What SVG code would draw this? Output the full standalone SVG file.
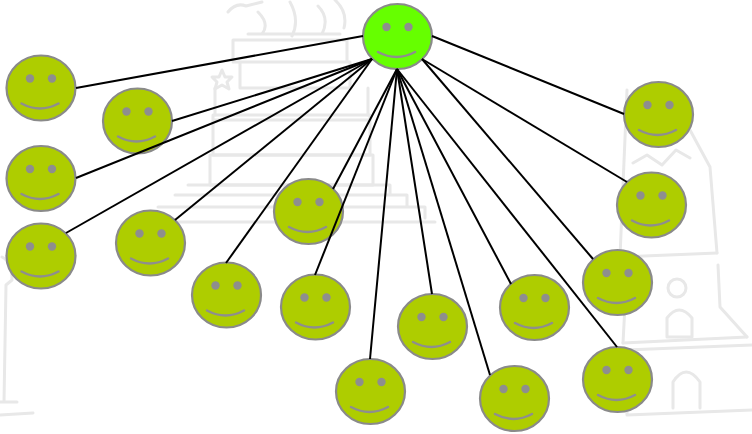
<svg xmlns="http://www.w3.org/2000/svg" xmlns:xlink="http://www.w3.org/1999/xlink" width="752" height="434" viewBox="0 0 752 434">
  <style>
    .wm { fill: none; stroke: #e8e8e8; stroke-width: 3; stroke-linejoin: round; stroke-linecap: round; }
    .face { fill: #aecd00; }
    .hub { fill: #66ff00; }
    .edge { stroke: #000; stroke-width: 2; fill: none; }
  </style>
  <defs>
    <!-- smiley face; the outline ellipse inherits its fill from the <use> -->
    <g id="smiley">
      <ellipse cx="0" cy="0" rx="34.5" ry="32.5" stroke="#8a8a8a" stroke-width="2.2"/>
      <circle cx="-11" cy="-9.5" r="4.2" fill="#8e8e8e"/>
      <circle cx="11" cy="-9.5" r="4.2" fill="#8e8e8e"/>
      <path d="M -19.5 15.5 Q -1 25.5 17.5 15.5" fill="none" stroke="#8e8e8e" stroke-width="2.5" stroke-linecap="round"/>
    </g>
  </defs>

  <rect width="752" height="434" fill="#fff"/>

  <!-- faint background drawing: monument -->
  <g id="backdrop">
    <path class="wm" d="M 228 12 Q 236 2 246 6 L 262 2 M 258 12 Q 270 24 262 34 M 290 2 Q 300 20 292 36 M 318 6 Q 330 18 322 34 M 335 0 Q 348 12 344 28 M 248 34 L 340 34"/>
    <path class="wm" d="M 233 40 L 347 40 L 347 62 L 233 62 Z M 240 62 L 350 62 L 350 88 L 240 88 Z"/>
    <path class="wm" d="M 222 70 L 225 77 L 232 77 L 227 82 L 229 89 L 222 85 L 215 89 L 217 82 L 212 77 L 219 77 Z"/>
    <path class="wm" d="M 213 115 L 370 115 L 370 155 L 213 155 Z M 213 120 L 370 120"/>
    <path class="wm" d="M 215 88 L 215 115 M 368 88 L 368 115"/>
    <path class="wm" d="M 210 155 L 373 155 L 373 185 L 210 185 Z"/>
    <path class="wm" d="M 188 185 L 390 185 L 390 195 M 175 195 L 407 195 L 407 207 M 158 207 L 425 207 L 425 218 M 150 222 L 435 222"/>
  </g>

  <!-- faint background drawing: tower -->
  <g id="backdrop-tower">
    <path class="wm" d="M 627 90 L 620 257 M 633 163 L 647 155 L 662 165 L 676 150 L 690 158 M 690 130 L 710 167 L 717 253"/>
    <path class="wm" d="M 620 257 L 717 253"/>
    <path class="wm" d="M 627 267 L 623 343 M 718 265 L 720 307 L 747 337"/>
    <circle class="wm" cx="677" cy="288" r="9"/>
    <path class="wm" d="M 667 337 L 667 318 Q 679 302 692 318 L 692 337 Z"/>
    <path class="wm" d="M 623 343 L 747 337 M 625 350 L 752 345 M 627 350 L 627 415 L 752 410"/>
    <path class="wm" d="M 673 408 L 673 382 Q 686 362 700 382 L 700 408"/>
  </g>

  <!-- faint background drawing: left fragment -->
  <g id="backdrop-left">
    <path class="wm" d="M 2 257 Q 12 262 12 280 L 6 285 L 4 402 M 0 402 L 17 402 M 0 415 L 33 413"/>
  </g>

  <!-- nodes -->
  <g id="hub"><use xlink:href="#smiley" href="#smiley" class="hub" transform="translate(397.5 36.5)"/></g>
  <g id="n1"><use href="#smiley" class="face" transform="translate(41 88)"/></g>
  <g id="n2"><use href="#smiley" class="face" transform="translate(137.5 121)"/></g>
  <g id="n3"><use href="#smiley" class="face" transform="translate(41 178.5)"/></g>
  <g id="n4"><use href="#smiley" class="face" transform="translate(41 256)"/></g>
  <g id="n5"><use href="#smiley" class="face" transform="translate(150.5 243)"/></g>
  <g id="n6"><use href="#smiley" class="face" transform="translate(308.5 211.5)"/></g>
  <g id="n7"><use href="#smiley" class="face" transform="translate(226.5 295)"/></g>
  <g id="n8"><use href="#smiley" class="face" transform="translate(315.5 307)"/></g>
  <g id="n9"><use href="#smiley" class="face" transform="translate(432.5 326.5)"/></g>
  <g id="n10"><use href="#smiley" class="face" transform="translate(370.5 391.5)"/></g>
  <g id="n11"><use href="#smiley" class="face" transform="translate(514.5 398.5)"/></g>
  <g id="n12"><use href="#smiley" class="face" transform="translate(534.5 307.5)"/></g>
  <g id="n13"><use href="#smiley" class="face" transform="translate(617.5 282.5)"/></g>
  <g id="n14"><use href="#smiley" class="face" transform="translate(617.5 379.5)"/></g>
  <g id="n15"><use href="#smiley" class="face" transform="translate(651.5 205)"/></g>
  <g id="n16"><use href="#smiley" class="face" transform="translate(658.5 114.5)"/></g>

  <!-- connectors from the hub to every node -->
  <g id="connectors" class="edge">
    <line x1="363" y1="36" x2="76" y2="88"/>
    <line x1="372" y1="59" x2="172" y2="121"/>
    <line x1="372" y1="59" x2="76" y2="178"/>
    <line x1="372" y1="59" x2="66" y2="233"/>
    <line x1="372" y1="59" x2="175" y2="220"/>
    <line x1="397" y1="69" x2="333" y2="189"/>
    <line x1="372" y1="59" x2="226" y2="263"/>
    <line x1="397" y1="69" x2="315" y2="275"/>
    <line x1="397" y1="69" x2="432" y2="294"/>
    <line x1="397" y1="69" x2="370" y2="359"/>
    <line x1="397" y1="69" x2="490" y2="375"/>
    <line x1="397" y1="69" x2="511" y2="284"/>
    <line x1="422" y1="59" x2="593" y2="259"/>
    <line x1="397" y1="69" x2="617" y2="347"/>
    <line x1="422" y1="59" x2="627" y2="182"/>
    <line x1="432" y1="36" x2="624" y2="114"/>
  </g>
</svg>
